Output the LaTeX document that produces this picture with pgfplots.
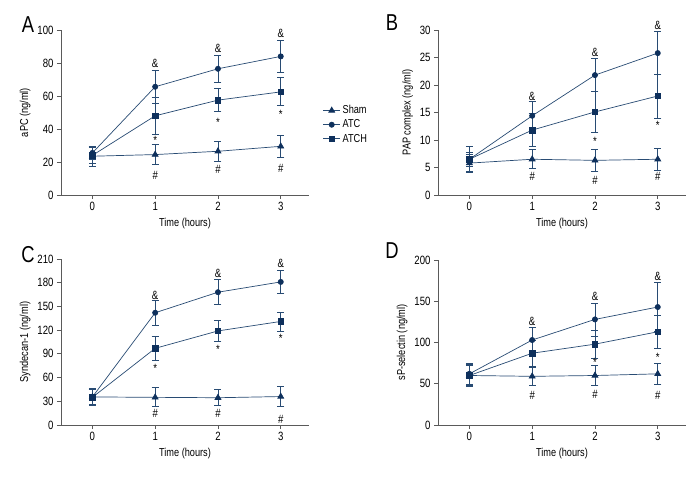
\documentclass[border=0pt]{standalone}
\usepackage{fontspec}
\setmainfont{Liberation Sans}[FakeStretch=0.8]
\usepackage{pgfplots}
\pgfplotsset{compat=1.18}
\definecolor{navy}{RGB}{14,48,92}
\definecolor{lnav}{RGB}{40,75,115}
\definecolor{axg}{RGB}{90,90,90}
\pgfplotsset{
  panel/.style={
    scale only axis, width=248pt,
    axis lines=left, axis line style={-, axg, line width=0.8pt},
    xmin=-0.5, xmax=3.45, xtick={0,1,2,3},
    tick style={axg, line width=0.8pt}, tick align=outside, major tick length=4pt,
    tick label style={font=\fontsize{12}{13}\selectfont},
    /pgf/number format/assume math mode=true,
    label style={font=\fontsize{11.5}{12}\selectfont},
    xlabel={Time (hours)},
    clip=false,
    every axis plot/.append style={line width=0.7pt, lnav},
    error bars/y dir=both, error bars/y explicit,
    error bars/error bar style={lnav, line width=0.8pt},
    error bars/error mark options={lnav, line width=0.8pt, mark size=3.5pt, rotate=90},
  },
  sham/.style={mark=triangle*, mark size=3.4pt, mark options={navy, fill=navy}},
  atc/.style={mark=*, mark size=2.6pt, mark options={navy, fill=navy}},
  atch/.style={mark=square*, mark size=2.8pt, mark options={navy, fill=navy}},
}
\newcommand{\ann}[3]{\node[font=\fontsize{12}{13}\selectfont] at (axis cs:#1,#2) {#3};}
\begin{document}
\begin{tikzpicture}
\useasboundingbox (0,0) rectangle (696pt,480pt);
\node[font=\fontsize{23}{25}\selectfont] at (28pt,455pt) {A};
\node[font=\fontsize{23}{25}\selectfont] at (392pt,457pt) {B};
\node[font=\fontsize{23}{25}\selectfont] at (28pt,225pt) {C};
\node[font=\fontsize{23}{25}\selectfont] at (392pt,229pt) {D};
% Panel A
\begin{axis}[panel, at={(61pt,285pt)}, anchor=south west, height=165pt,
  ymin=0, ymax=100, ytick={0,20,40,60,80,100}, ylabel={aPC (ng/ml)},
  legend style={at={(1.055,0.555)}, anchor=north west, draw=none, fill=none,
    font=\fontsize{11.5}{12}\selectfont, row sep=0.5pt, inner sep=0pt},
  legend cell align=left]
\addplot[sham] coordinates {(0,23.5) +- (0,6) (1,24.5) +- (0,6) (2,26.5) +- (0,6) (3,29.5) +- (0,6.7)};
\addplot[atc] coordinates {(0,25.5) +- (0,4) (1,65.6) +- (0,10) (2,76.5) +- (0,8) (3,84) +- (0,9.7)};
\addplot[atch] coordinates {(0,24) +- (0,5) (1,48) +- (0,11) (2,57.5) +- (0,7) (3,62.5) +- (0,8.5)};
\legend{Sham, ATC, ATCH}
\ann{1}{80}{\&}\ann{2}{89}{\&}\ann{3}{98}{\&}
\ann{1}{33}{*}\ann{2}{44}{*}\ann{3}{49}{*}
\ann{1}{12}{\#}\ann{2}{15.5}{\#}\ann{3}{16}{\#}
\end{axis}
% Panel B
\begin{axis}[panel, at={(438pt,285pt)}, anchor=south west, height=165pt,
  ymin=0, ymax=30, ytick={0,5,10,15,20,25,30}, ylabel={PAP complex (ng/ml)}]
\addplot[sham] coordinates {(0,5.8) +- (0,1.6) (1,6.5) +- (0,1.7) (2,6.3) +- (0,2) (3,6.5) +- (0,2)};
\addplot[atc] coordinates {(0,6.5) +- (0,2.4) (1,14.4) +- (0,2.6) (2,21.8) +- (0,3) (3,25.8) +- (0,3.9)};
\addplot[atch] coordinates {(0,6.5) +- (0,1.3) (1,11.8) +- (0,3) (2,15.1) +- (0,3.7) (3,18) +- (0,4)};
\ann{1}{18}{\&}\ann{2}{25.9}{\&}\ann{3}{30.9}{\&}
\ann{2}{9.8}{*}\ann{3}{12.6}{*}
\ann{1}{3.3}{\#}\ann{2}{2.7}{\#}\ann{3}{3.3}{\#}
\end{axis}
% Panel C
\begin{axis}[panel, at={(61pt,55pt)}, anchor=south west, height=166pt,
  ymin=0, ymax=210, ytick={0,30,60,90,120,150,180,210}, ylabel={Syndecan-1 (ng/ml)}]
\addplot[sham] coordinates {(0,35.5) +- (0,11) (1,35) +- (0,12) (2,34.5) +- (0,10) (3,36) +- (0,13)};
\addplot[atc] coordinates {(0,35.5) +- (0,10) (1,142) +- (0,16) (2,168) +- (0,16) (3,181) +- (0,15)};
\addplot[atch] coordinates {(0,35) +- (0,10) (1,97) +- (0,15) (2,119) +- (0,13) (3,131) +- (0,12)};
\ann{1}{164.5}{\&}\ann{2}{192}{\&}\ann{3}{204.5}{\&}
\ann{1}{72}{*}\ann{2}{96}{*}\ann{3}{109}{*}
\ann{1}{14.8}{\#}\ann{2}{14.8}{\#}\ann{3}{7.6}{\#}
\end{axis}
% Panel D
\begin{axis}[panel, at={(438pt,55pt)}, anchor=south west, height=165pt,
  ymin=0, ymax=200, ytick={0,50,100,150,200}, ylabel={sP-selectin (ng/ml)}]
\addplot[sham] coordinates {(0,60) +- (0,13) (1,59) +- (0,11) (2,60) +- (0,12) (3,62) +- (0,13)};
\addplot[atc] coordinates {(0,62) +- (0,13) (1,103) +- (0,15) (2,128) +- (0,20) (3,143) +- (0,30)};
\addplot[atch] coordinates {(0,60) +- (0,12) (1,87) +- (0,16) (2,98) +- (0,17) (3,113) +- (0,20)};
\ann{1}{125}{\&}\ann{2}{155.5}{\&}\ann{3}{180.6}{\&}
\ann{2}{75.5}{*}\ann{3}{82.5}{*}
\ann{1}{36}{\#}\ann{2}{37.6}{\#}\ann{3}{36.4}{\#}
\end{axis}
\end{tikzpicture}
\end{document}
